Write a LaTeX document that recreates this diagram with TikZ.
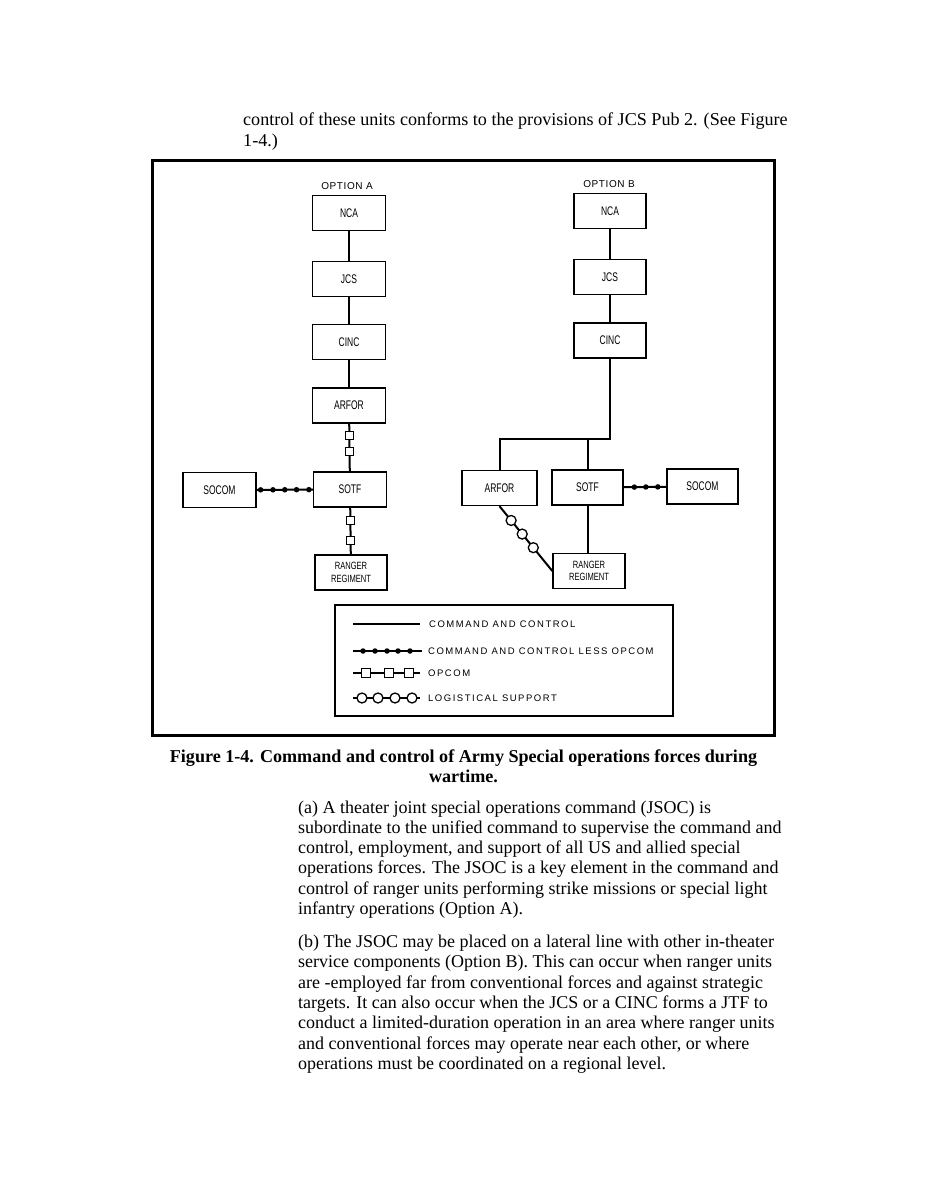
\documentclass[tikz,border=0pt]{standalone}
\usepackage{fontspec}
\usepackage{graphicx}
\setmainfont{Liberation Serif}
\newfontfamily\dfont{Liberation Sans}
\newfontfamily\lfont[LetterSpace=16]{Liberation Sans}
\newfontfamily\ofont[LetterSpace=6]{Liberation Sans}
\newcommand\boxlbl[1]{\scalebox{0.68}[1]{\dfont\fontsize{12.5}{12.5}\selectfont #1}}
\newcommand\rglbl{\scalebox{0.72}[1]{\dfont\fontsize{10.5}{10.5}\selectfont\shortstack{RANGER\\[2pt]REGIMENT}}}
\begin{document}
\begin{tikzpicture}[x=1pt,y=-1pt,
  unit/.style={draw, line width=1.4pt, minimum width=73pt, minimum height=35pt, inner sep=0pt},
  link/.style={line width=2pt},
  sqm/.style={draw, fill=white, rectangle, minimum size=8pt, inner sep=0pt, line width=1.3pt},
  dotm/.style={circle, fill=black, minimum size=5.5pt, inner sep=0pt},
  circm/.style={circle, draw, fill=white, minimum size=10pt, inner sep=0pt, line width=1.3pt},
  legtext/.style={anchor=west, inner sep=0pt, font=\lfont\fontsize{9.5}{10}\selectfont},
  opt/.style={inner sep=0pt, font=\ofont\fontsize{10}{10}\selectfont},
  bodyline/.style={anchor=base west, inner sep=0pt, font=\fontsize{18}{20}\selectfont},
  introline/.style={anchor=base west, inner sep=0pt, font=\fontsize{18.1}{20}\selectfont},
  capline/.style={anchor=base, inner sep=0pt, font=\bfseries\fontsize{18.1}{20}\selectfont}]
\fill[white] (0,0) rectangle (926,1198);
\useasboundingbox (0,0) rectangle (926,1198);

% intro text
\node[introline] (i1) at (243,126) {control of these units conforms to the provisions of JCS Pub 2. (See Figure};
\node[introline] (i2) at (243,147) {1-4.)};

% frame
\draw[line width=3pt] (152,161) rectangle (774,735);

% Option A
\node[opt] (optA) at (347,186) {OPTION A};
\node[unit] (ncaA) at (349,213) {\boxlbl{NCA}};
\node[unit] (jcsA) at (349,279) {\boxlbl{JCS}};
\node[unit] (cincA) at (349,342) {\boxlbl{CINC}};
\node[unit] (arforA) at (349,405.5) {\boxlbl{ARFOR}};
\node[unit] (sotfA) at (350,489.5) {\boxlbl{SOTF}};
\node[unit] (socomA) at (219.5,490) {\boxlbl{SOCOM}};
\node[unit, minimum width=72pt] (rangerA) at (351,572.5) {\rglbl};

\draw[link] (ncaA) -- (jcsA);
\draw[link] (jcsA) -- (cincA);
\draw[link] (cincA) -- (arforA);
\draw[link] (arforA) -- node[sqm,pos=0.245]{} node[sqm,pos=0.59]{} (sotfA);
\draw[link] (sotfA) -- node[sqm,pos=0.27]{} node[sqm,pos=0.71]{} (rangerA);
\draw[link] (socomA) -- node[dotm,pos=0.07]{} node[dotm,pos=0.29]{} node[dotm,pos=0.5]{} node[dotm,pos=0.71]{} node[dotm,pos=0.93]{} (sotfA);

% Option B
\node[opt] (optB) at (609,184) {OPTION B};
\node[unit, minimum width=72pt] (ncaB) at (610,211) {\boxlbl{NCA}};
\node[unit, minimum width=72pt] (jcsB) at (610,277) {\boxlbl{JCS}};
\node[unit, minimum width=72pt] (cincB) at (610,340.5) {\boxlbl{CINC}};
\node[unit, minimum width=75pt] (arforB) at (499.5,488) {\boxlbl{ARFOR}};
\node[unit, minimum width=71pt] (sotfB) at (587.5,487.5) {\boxlbl{SOTF}};
\node[unit, minimum width=71pt] (socomB) at (702.5,486.5) {\boxlbl{SOCOM}};
\node[unit, minimum width=72pt] (rangerB) at (589,571) {\rglbl};
\coordinate (busB) at (610,439);

\draw[link] (ncaB) -- (jcsB);
\draw[link] (jcsB) -- (cincB);
\draw[link] (cincB.south) -- (busB) -| (arforB.north);
\draw[link] (sotfB.north) -- (sotfB.north |- busB);
\draw[link] (sotfB) -- node[dotm,pos=0.25]{} node[dotm,pos=0.52]{} node[dotm,pos=0.8]{} (socomB);
\draw[link] (sotfB.south) -- (sotfB.south |- rangerB.north);
\draw[link] (arforB.south) -- node[circm,pos=0.22]{} node[circm,pos=0.43]{} node[circm,pos=0.64]{} (rangerB.west);

% legend
\draw[line width=1.8pt] (335,605) rectangle (673,716);
\coordinate (la1) at (353,624); \coordinate (lb1) at (420,624);
\coordinate (la2) at (353,651); \coordinate (lb2) at (422,651);
\coordinate (la3) at (353,673); \coordinate (lb3) at (420,673);
\coordinate (la4) at (353,698); \coordinate (lb4) at (420,698);
\draw[link] (la1) -- (lb1);
\draw[link] (la2) -- node[dotm,pos=0.145]{} node[dotm,pos=0.319]{} node[dotm,pos=0.493]{} node[dotm,pos=0.652]{} node[dotm,pos=0.826]{} (lb2);
\draw[link] (la3) -- node[sqm,minimum size=9pt,pos=0.194]{} node[sqm,minimum size=9pt,pos=0.537]{} node[sqm,minimum size=9pt,pos=0.836]{} (lb3);
\draw[link] (la4) -- node[circm,pos=0.134]{} node[circm,pos=0.373]{} node[circm,pos=0.627]{} node[circm,pos=0.881]{} (lb4);
\node[legtext] (lt1) at (429,624) {COMMAND AND CONTROL};
\node[legtext] (lt2) at (428,651) {COMMAND AND CONTROL LESS OPCOM};
\node[legtext] (lt3) at (428,673) {OPCOM};
\node[legtext] (lt4) at (428,698) {LOGISTICAL SUPPORT};

% caption
\node[capline] (c1) at (463.5,762) {Figure 1-4. Command and control of Army Special operations forces during};
\node[capline] (c2) at (463.5,782) {wartime.};

% body (a)
\node[bodyline] (a1) at (298,813) {(a) A theater joint special operations command (JSOC) is};
\node[bodyline] (a2) at (298,833.3) {subordinate to the unified command to supervise the command and};
\node[bodyline] (a3) at (298,853.6) {control, employment, and support of all US and allied special};
\node[bodyline] (a4) at (298,873.9) {operations forces. The JSOC is a key element in the command and};
\node[bodyline] (a5) at (298,894.2) {control of ranger units performing strike missions or special light};
\node[bodyline] (a6) at (298,914.5) {infantry operations (Option A).};

% body (b)
\node[bodyline] (b1) at (298,947.5) {(b) The JSOC may be placed on a lateral line with other in-theater};
\node[bodyline] (b2) at (298,967.8) {service components (Option B). This can occur when ranger units};
\node[bodyline] (b3) at (298,988.1) {are -employed far from conventional forces and against strategic};
\node[bodyline] (b4) at (298,1008.4) {targets. It can also occur when the JCS or a CINC forms a JTF to};
\node[bodyline] (b5) at (298,1028.7) {conduct a limited-duration operation in an area where ranger units};
\node[bodyline] (b6) at (298,1049) {and conventional forces may operate near each other, or where};
\node[bodyline] (b7) at (298,1069.3) {operations must be coordinated on a regional level.};
\end{tikzpicture}
\end{document}
